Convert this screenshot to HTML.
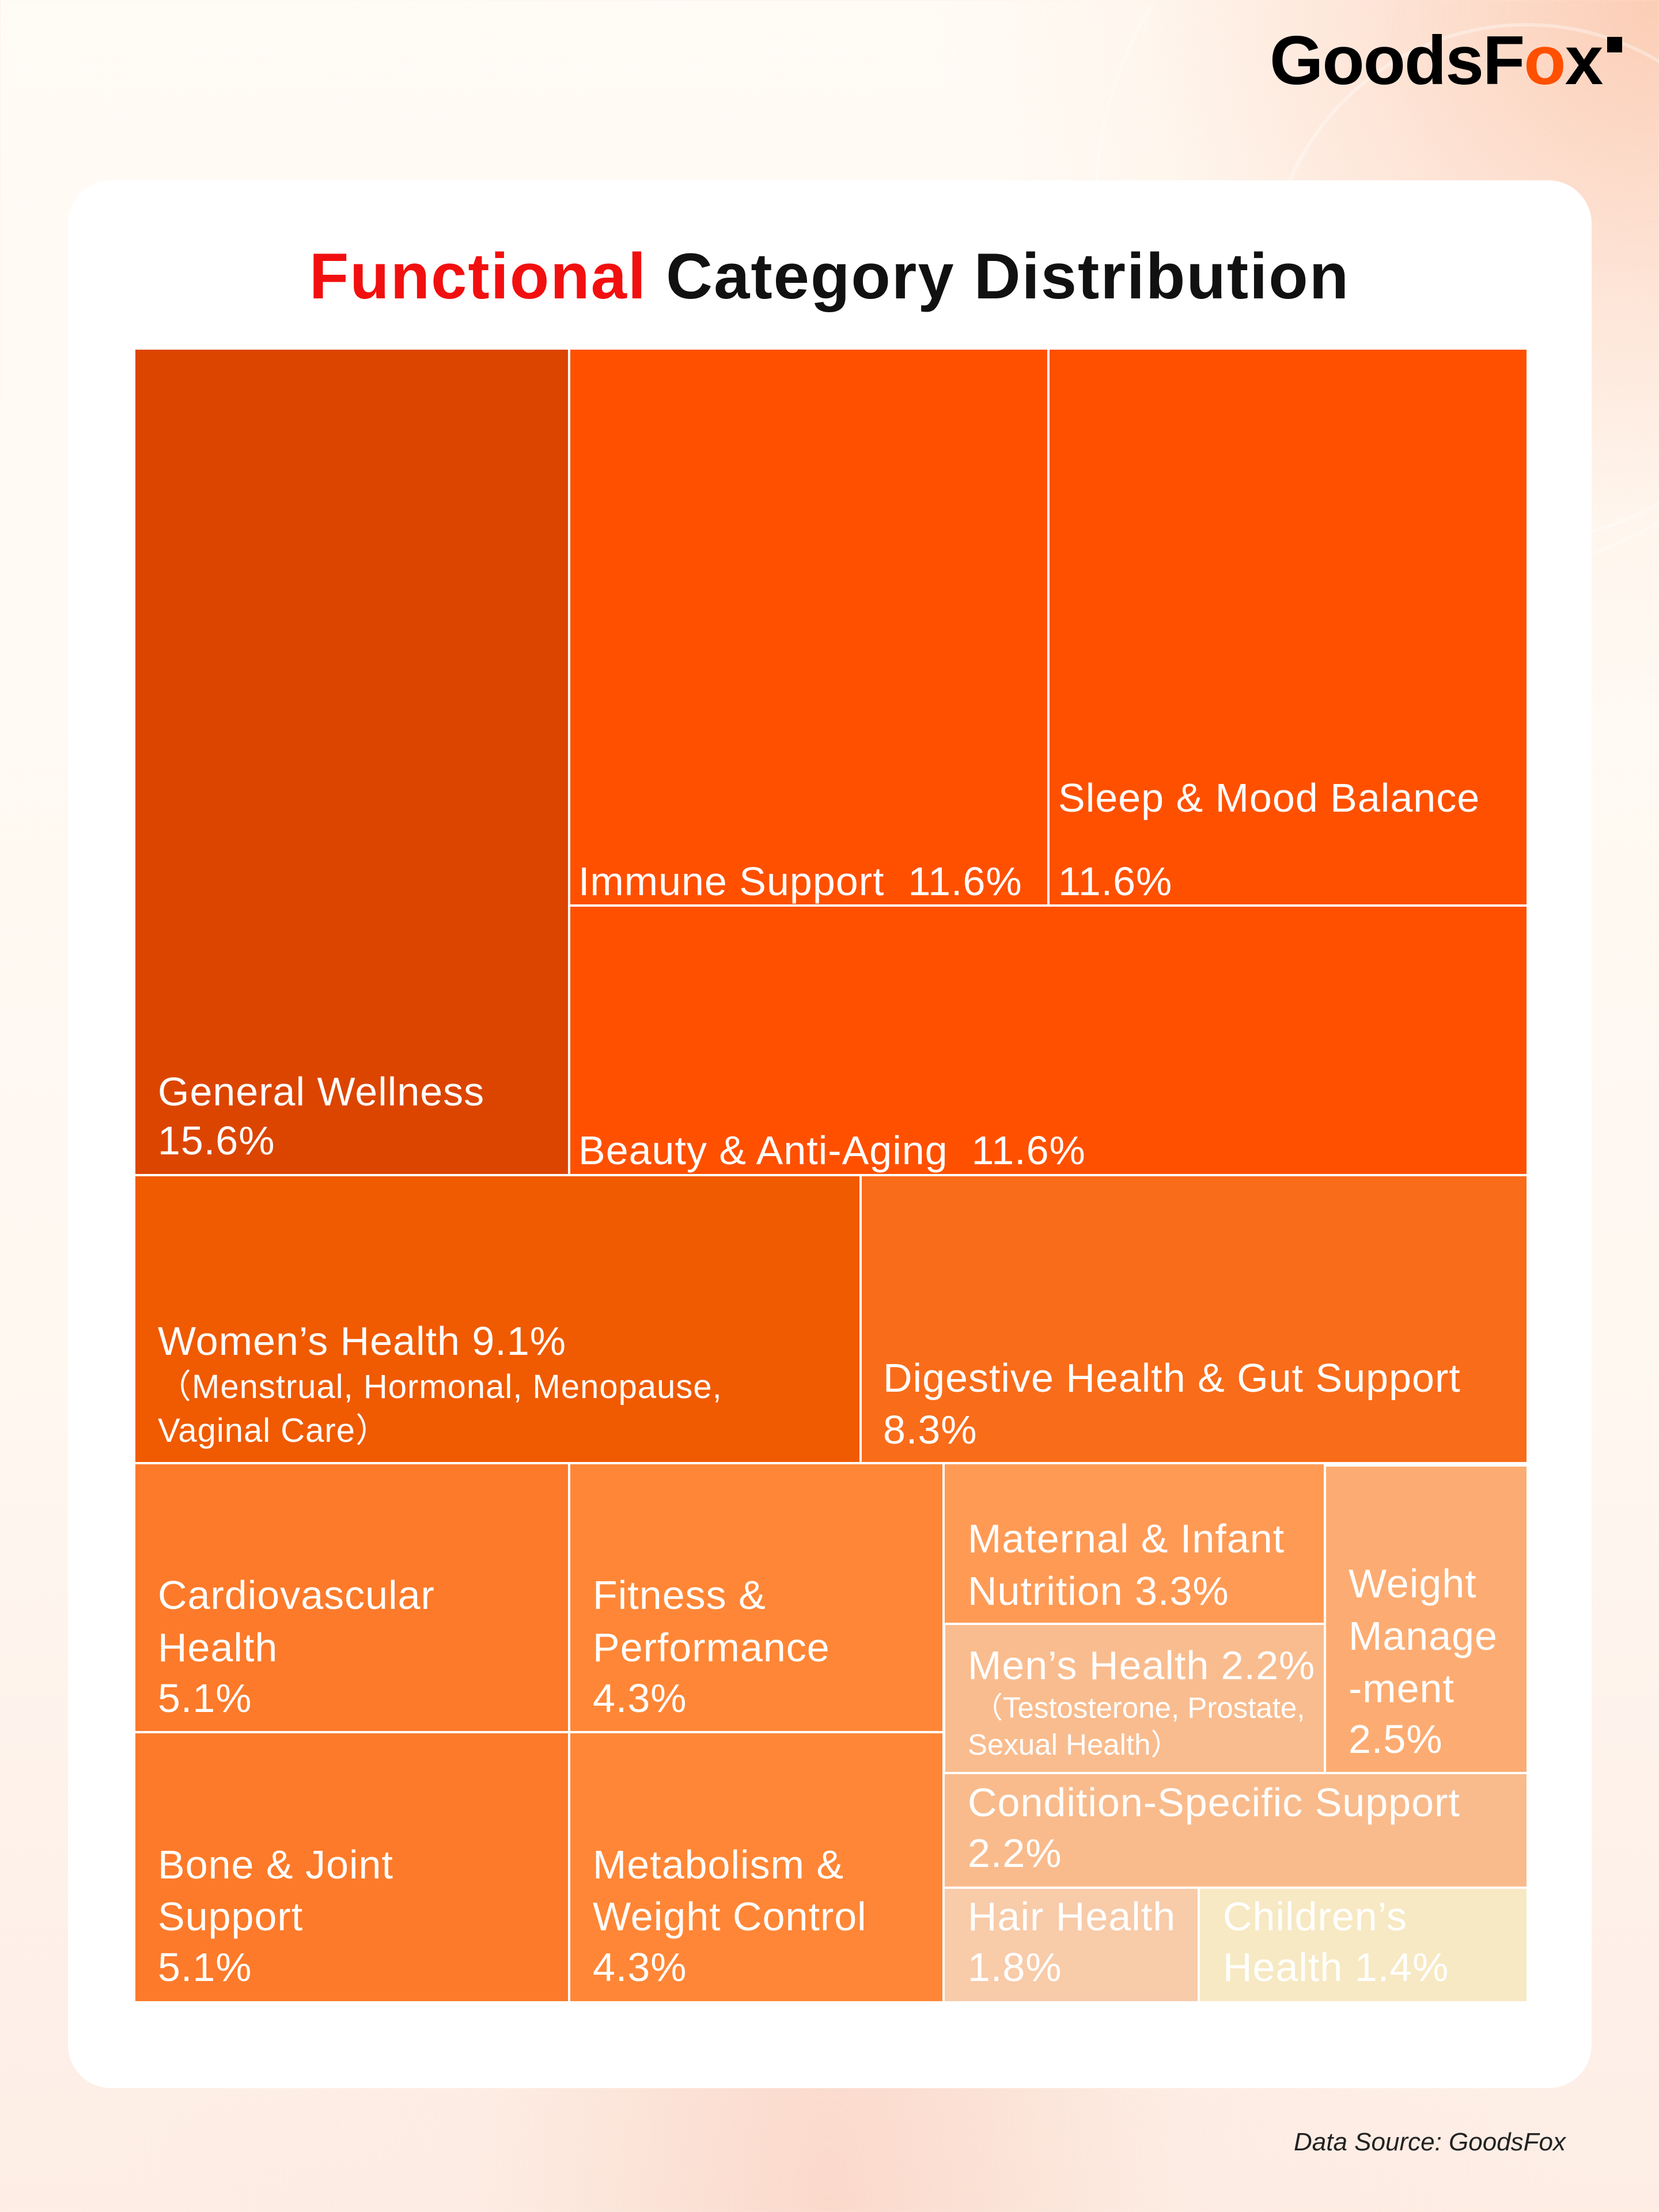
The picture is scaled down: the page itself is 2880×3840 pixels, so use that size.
<!DOCTYPE html>
<html><head><meta charset="utf-8"><style>
*{margin:0;padding:0;box-sizing:border-box}
body{width:2880px;height:3840px;position:relative;overflow:hidden;font-family:"Liberation Sans",sans-serif;
background:
radial-gradient(circle at 2880px 0px, rgba(250,190,160,0.75) 0, rgba(252,210,190,0.55) 500px, rgba(255,235,222,0.3) 900px, rgba(255,250,244,0) 1250px),
radial-gradient(ellipse at 50% 3840px, rgba(250,215,200,0.9) 0, rgba(253,235,225,0.6) 600px, rgba(255,250,244,0) 1300px),
linear-gradient(180deg,#FFFBF5 0%,#FFF8F1 60%,#FDEDE5 100%);}
.card{position:absolute;left:118px;top:313px;width:2645px;height:3312px;background:#fff;border-radius:75px}
.r{position:absolute}
.t{position:absolute;color:#fff;font-size:70px;letter-spacing:1px;line-height:1;white-space:nowrap}
.s{font-size:58px}
</style></head><body>
<div class="r" style="left:2200px;top:40px;width:900px;height:900px;border-radius:50%;border:6px solid rgba(255,255,255,0.35)"></div>
<div class="r" style="left:1900px;top:-300px;width:1300px;height:1300px;border-radius:50%;border:5px solid rgba(255,255,255,0.3)"></div>
<div class="r" style="left:2204px;top:45px;font-size:120px;font-weight:bold;line-height:1;color:#000;letter-spacing:-2px">Goods<span>F</span><span style="color:#FF5000">o</span>x</div>
<div class="r" style="left:2790px;top:64px;width:26px;height:27px;background:#000"></div>

<div class="card"></div>
<div class="r" style="left:0;width:2880px;text-align:center;top:424px;font-size:112px;font-weight:bold;line-height:1;color:#111;letter-spacing:2px"><span style="color:#F20F0F">Functional</span> Category Distribution</div>

<!-- rects -->
<div class="r" style="left:235px;top:607px;width:751px;height:1431px;background:#DC4500"></div>
<div class="r" style="left:990px;top:607px;width:828px;height:963px;background:#FF5000"></div>
<div class="r" style="left:1822px;top:607px;width:828px;height:963px;background:#FF5000"></div>
<div class="r" style="left:990px;top:1574px;width:1660px;height:464px;background:#FF5000"></div>
<div class="r" style="left:235px;top:2042px;width:1257px;height:496px;background:#F05A00"></div>
<div class="r" style="left:1496px;top:2042px;width:1154px;height:496px;background:#F96C1A"></div>
<div class="r" style="left:235px;top:2542px;width:751px;height:463px;background:#FC7A2A"></div>
<div class="r" style="left:235px;top:3009px;width:751px;height:465px;background:#FC7A2A"></div>
<div class="r" style="left:990px;top:2542px;width:646px;height:463px;background:#FF8636"></div>
<div class="r" style="left:990px;top:3009px;width:646px;height:465px;background:#FF8636"></div>
<div class="r" style="left:1640px;top:2542px;width:658px;height:275px;background:#FF9A55"></div>
<div class="r" style="left:1641px;top:2821px;width:657px;height:255px;background:#F9BC8E"></div>
<div class="r" style="left:2302px;top:2546px;width:348px;height:530px;background:#FCAC72"></div>
<div class="r" style="left:1640px;top:3080px;width:1010px;height:195px;background:#F9BB8C"></div>
<div class="r" style="left:1640px;top:3279px;width:439px;height:195px;background:#F8CBA9"></div>
<div class="r" style="left:2083px;top:3279px;width:567px;height:195px;background:#F7E9C3"></div>

<!-- labels -->
<div class="t" style="left:274px;top:1860px">General Wellness</div>
<div class="t" style="left:274px;top:1945px">15.6%</div>
<div class="t" style="left:1004px;top:1495px">Immune Support&nbsp; 11.6%</div>
<div class="t" style="left:1837px;top:1350px">Sleep &amp; Mood Balance</div>
<div class="t" style="left:1837px;top:1495px">11.6%</div>
<div class="t" style="left:1004px;top:1962px">Beauty &amp; Anti-Aging&nbsp; 11.6%</div>
<div class="t" style="left:274px;top:2293px">Women’s Health 9.1%</div>
<div class="t s" style="left:274px;top:2379px">（Menstrual, Hormonal, Menopause,</div>
<div class="t s" style="left:274px;top:2455px">Vaginal Care）</div>
<div class="t" style="left:1533px;top:2357px">Digestive Health &amp; Gut Support</div>
<div class="t" style="left:1533px;top:2447px">8.3%</div>
<div class="t" style="left:274px;top:2734px">Cardiovascular</div>
<div class="t" style="left:274px;top:2825px">Health</div>
<div class="t" style="left:274px;top:2913px">5.1%</div>
<div class="t" style="left:1029px;top:2734px">Fitness &amp;</div>
<div class="t" style="left:1029px;top:2825px">Performance</div>
<div class="t" style="left:1029px;top:2913px">4.3%</div>
<div class="t" style="left:274px;top:3202px">Bone &amp; Joint</div>
<div class="t" style="left:274px;top:3292px">Support</div>
<div class="t" style="left:274px;top:3380px">5.1%</div>
<div class="t" style="left:1029px;top:3202px">Metabolism &amp;</div>
<div class="t" style="left:1029px;top:3292px">Weight Control</div>
<div class="t" style="left:1029px;top:3380px">4.3%</div>
<div class="t" style="left:1680px;top:2636px">Maternal &amp; Infant</div>
<div class="t" style="left:1680px;top:2727px">Nutrition 3.3%</div>
<div class="t" style="left:1680px;top:2856px">Men’s Health 2.2%</div>
<div class="t" style="left:1690px;top:2939px;font-size:51px;letter-spacing:0">（Testosterone, Prostate,</div>
<div class="t" style="left:1680px;top:3003px;font-size:51px;letter-spacing:0">Sexual Health）</div>
<div class="t" style="left:2341px;top:2714px">Weight</div>
<div class="t" style="left:2341px;top:2805px">Manage</div>
<div class="t" style="left:2341px;top:2896px">-ment</div>
<div class="t" style="left:2341px;top:2984px">2.5%</div>
<div class="t" style="left:1680px;top:3094px">Condition-Specific Support</div>
<div class="t" style="left:1680px;top:3182px">2.2%</div>
<div class="t" style="left:1680px;top:3292px">Hair Health</div>
<div class="t" style="left:1680px;top:3380px">1.8%</div>
<div class="t" style="left:2123px;top:3292px">Children’s</div>
<div class="t" style="left:2123px;top:3380px">Health 1.4%</div>

<div class="r" style="right:162px;top:3697px;font-size:44px;font-style:italic;line-height:1;color:#222">Data Source: GoodsFox</div>
</body></html>
